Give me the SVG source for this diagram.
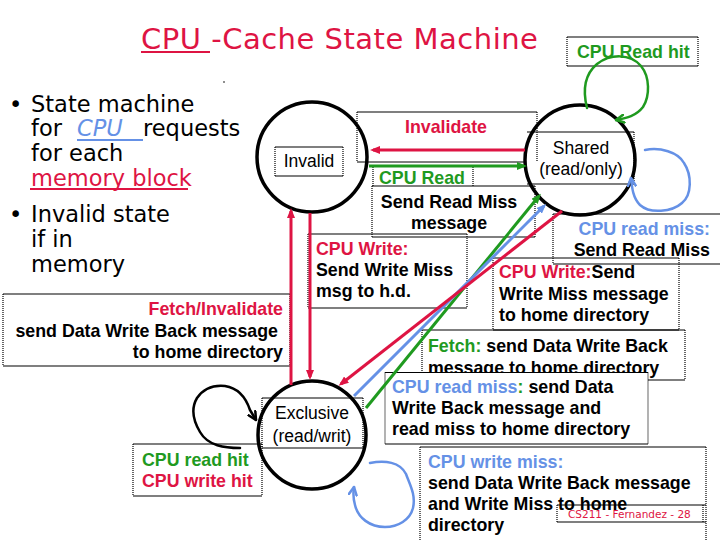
<svg xmlns="http://www.w3.org/2000/svg" width="720" height="540" viewBox="0 0 720 540">
<style>
.t{font-family:"Liberation Sans",Arial,sans-serif;font-weight:bold;font-size:17.8px;fill:#000}
.s{font-family:"Liberation Sans",Arial,sans-serif;font-size:17.5px;fill:#000}
.c{font-family:"DejaVu Sans",sans-serif;fill:#000}
.r{fill:#DE1443}.g{fill:#1F9A1F}.b{fill:#6591E6}
.hz{fill:none;stroke:#000;stroke-width:1.2}
.vt{fill:none;stroke:#000;stroke-width:1.2;stroke-dasharray:1 1}
.st{fill:none;stroke:#000;stroke-width:3.5}
.ln{fill:none;stroke-width:3}
.lp{fill:none;stroke-width:2.5;stroke-linecap:round;stroke-linejoin:round}
</style>
<defs>
<marker id="ar" viewBox="0 0 10 8" refX="7" refY="4" markerWidth="10" markerHeight="8" markerUnits="userSpaceOnUse" orient="auto"><path d="M0,0 L10,4 L0,8 z" fill="#DE1443"/></marker>
<marker id="ag" viewBox="0 0 10 8" refX="7" refY="4" markerWidth="10" markerHeight="8" markerUnits="userSpaceOnUse" orient="auto"><path d="M0,0 L10,4 L0,8 z" fill="#1F9A1F"/></marker>
<marker id="ab" viewBox="0 0 10 8" refX="7" refY="4" markerWidth="10" markerHeight="8" markerUnits="userSpaceOnUse" orient="auto"><path d="M0,0 L10,4 L0,8 z" fill="#6591E6"/></marker>
<marker id="og" viewBox="0 0 10 10" refX="9" refY="5" markerWidth="10" markerHeight="10" markerUnits="userSpaceOnUse" orient="auto"><path d="M1,1 L9,5 L1,9" fill="none" stroke="#1F9A1F" stroke-width="2.5" stroke-linecap="round"/></marker>
<marker id="ob" viewBox="0 0 10 10" refX="9" refY="5" markerWidth="10" markerHeight="10" markerUnits="userSpaceOnUse" orient="auto"><path d="M1,1 L9,5 L1,9" fill="none" stroke="#6591E6" stroke-width="2.5" stroke-linecap="round"/></marker>
<marker id="ok" viewBox="0 0 10 10" refX="9" refY="5" markerWidth="10" markerHeight="10" markerUnits="userSpaceOnUse" orient="auto"><path d="M1,1 L9,5 L1,9" fill="none" stroke="#000" stroke-width="2.5" stroke-linecap="round"/></marker>
</defs>
<rect width="720" height="540" fill="#fff"/>

<!-- title -->
<g id="title">
<text class="c r" x="141" y="49" font-size="29" letter-spacing="0.5">CPU -Cache State Machine</text>
<line x1="141" y1="52" x2="210" y2="52" stroke="#DE1443" stroke-width="2"/>
<circle cx="224" cy="82" r="0.8" fill="#000"/>
</g>

<!-- bullets -->
<g id="bullets" class="c" font-size="22.5">
<text x="9" y="112">•</text>
<text x="31" y="112">State machine</text>
<text y="136"><tspan x="31">for</tspan><tspan x="77" class="b" font-style="italic">CPU</tspan><tspan x="143">requests</tspan></text>
<line x1="77" y1="140" x2="143" y2="140" stroke="#6591E6" stroke-width="2"/>
<text x="31" y="161">for each</text>
<text x="31" y="186" class="r">memory block</text>
<line x1="30" y1="189" x2="188" y2="189" stroke="#DE1443" stroke-width="2"/>
<text x="9" y="222">•</text>
<text x="31" y="222">Invalid state</text>
<text x="31" y="247">if in</text>
<text x="31" y="272">memory</text>
</g>

<!-- label boxes -->
<g id="label-boxes">
<path class="hz" d="M567 37H698M567 66H698"/><path class="vt" d="M567 37V66M698 37V66"/>
<path class="hz" d="M357 112H537M357 162H525"/><path class="vt" d="M357 112V162M537 112V162"/>
<path class="vt" d="M373 167V186M473 167V186"/>
<path class="hz" d="M372 186H535M372 237H535"/><path class="vt" d="M372 186V237M535 186V237"/>
<path class="hz" d="M553 214H720M553 264H720"/><path class="vt" d="M553 214V264"/>
<path class="hz" d="M308 234H467M308 308H467"/><path class="vt" d="M308 234V308M467 234V308"/>
<path class="hz" d="M493 258H679M493 330H679"/><path class="vt" d="M493 258V330M679 258V330"/>
<path class="hz" d="M3 294H290M3 366H290"/><path class="vt" d="M3 294V366M290 294V366"/>
<path class="hz" d="M422 330H685M422 380H685"/><path class="vt" d="M422 330V380M685 330V380"/>
<path class="hz" d="M133 444H262M133 496H262"/><path class="vt" d="M133 444V496M262 444V496"/>
<path class="hz" d="M420 447H706"/><path class="vt" d="M420 447V540M706 447V540"/>
</g>

<!-- label texts -->
<g id="labels">
<text class="t g" x="577" y="58">CPU Read hit</text>
<text class="t r" x="446" y="133" text-anchor="middle">Invalidate</text>
<text class="t g" x="379" y="184">CPU Read</text>
<text class="t" x="449" y="208" text-anchor="middle">Send Read Miss</text>
<text class="t" x="449" y="229" text-anchor="middle">message</text>
<text class="t b" x="710" y="235" text-anchor="end">CPU read miss:</text>
<text class="t" x="710" y="256" text-anchor="end">Send Read Miss</text>
<text class="t r" x="316" y="255">CPU Write:</text>
<text class="t" x="316" y="276">Send Write Miss</text>
<text class="t" x="316" y="297">msg to h.d.</text>
<text class="t" x="499" y="278"><tspan class="r">CPU Write:</tspan>Send</text>
<text class="t" x="499" y="300">Write Miss message</text>
<text class="t" x="499" y="321">to home directory</text>
<text class="t r" x="283" y="315" text-anchor="end">Fetch/Invalidate</text>
<text class="t" x="278" y="337" text-anchor="end">send Data Write Back message</text>
<text class="t" x="283" y="358" text-anchor="end">to home directory</text>
<text class="t" x="428" y="352"><tspan class="g">Fetch:</tspan> send Data Write Back</text>
<text class="t" x="428" y="374">message to home directory</text>
<rect x="385" y="372.5" width="263" height="71.5" fill="#fff"/>
<path class="hz" d="M385 372.5H648M385 444H648"/><path class="vt" d="M385 372.5V444M648 372.5V444"/>
<text class="t" x="392" y="393"><tspan class="b">CPU read miss</tspan><tspan class="g">:</tspan> send Data</text>
<text class="t" x="392" y="414">Write Back message and</text>
<text class="t" x="392" y="435">read miss to home directory</text>
<text class="t g" x="142" y="466">CPU read hit</text>
<text class="t r" x="142" y="487">CPU write hit</text>
<text class="t b" x="428" y="468">CPU write miss:</text>
<text class="t" x="428" y="489">send Data Write Back message</text>
<text class="t" x="428" y="510">and Write Miss to home</text>
<text class="t" x="428" y="531">directory</text>
<path class="hz" d="M557 505H706M557 522H706"/><path class="vt" d="M557 505V522M703 505V522"/>
<text class="c r" x="568" y="518" font-size="10.5">CS211 - Fernandez - 28</text>
</g>

<!-- states -->
<g id="node-invalid">
<circle class="st" cx="312" cy="157" r="55"/>
<path class="hz" d="M275 147H343M275 176H343"/><path class="vt" d="M275 147V176M343 147V176"/>
<text class="s" x="309" y="167" text-anchor="middle">Invalid</text>
</g>
<g id="node-shared">
<circle class="st" cx="580" cy="160" r="55"/>
<path class="hz" d="M527 132H634M527 184H634"/><path class="vt" d="M634 132V184"/>
<text class="s" x="581" y="154" text-anchor="middle">Shared</text>
<text class="s" x="581" y="175" text-anchor="middle">(read/only)</text>
</g>
<g id="node-exclusive">
<circle class="st" cx="312" cy="435" r="54"/>
<path class="hz" d="M262 398H363M262 448H363"/><path class="vt" d="M262 398V448M363 398V448"/>
<text class="s" x="312" y="419" text-anchor="middle">Exclusive</text>
<text class="s" x="312" y="442" text-anchor="middle">(read/writ)</text>
</g>

<!-- connectors -->
<g id="connectors">
<path class="ln" stroke="#DE1443" d="M525 150H373" marker-end="url(#ar)"/>
<path class="ln" stroke="#1F9A1F" d="M369 166H524" marker-end="url(#ag)"/>
<path class="ln" stroke="#DE1443" d="M291 385V211" marker-end="url(#ar)"/>
<path class="ln" stroke="#DE1443" d="M310 213V377" marker-end="url(#ar)"/>
<path class="ln" stroke="#1F9A1F" d="M366 408L539 196" marker-end="url(#ag)"/>
<path class="ln" stroke="#6591E6" d="M354 396L544 206" marker-end="url(#ab)"/>
<path class="ln" stroke="#DE1443" d="M562 211L341 384" marker-end="url(#ar)"/>
<path class="lp" stroke="#1F9A1F" d="M587 108C583 92 584 75 597 64C610 54 630 53 641 66C650 77 650 96 643 107C636 116 627 118 616 120" marker-end="url(#og)"/>
<path class="lp" stroke="#6591E6" d="M645 150C660 147 678 152 684 163C692 175 692 195 682 203C672 212 650 214 640 205C633 198 632 188 631 178" marker-end="url(#ob)"/>
<path class="lp" stroke="#6591E6" d="M370 463C385 460 400 462 406 474C410 485 416 495 413 508C410 520 398 527 385 527C370 527 358 518 355 505C353 498 353 493 354 487" marker-end="url(#ob)"/>
<path class="lp" stroke="#000" d="M240 448C225 448 208 446 200 432C194 422 190 410 197 398C204 388 215 385 225 386C238 388 246 398 250 410L256 420" marker-end="url(#ok)"/>
</g>
</svg>
